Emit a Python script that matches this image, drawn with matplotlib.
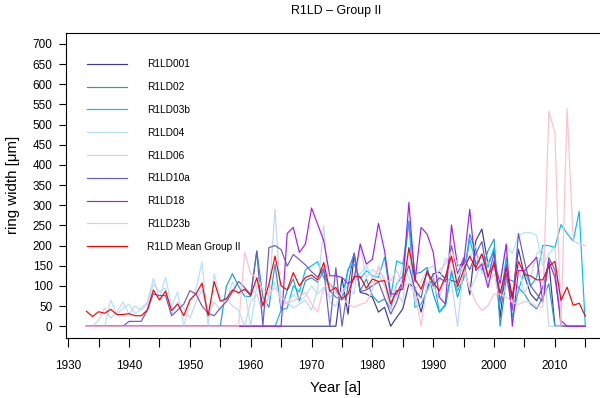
import numpy as np
import matplotlib
matplotlib.use('Agg')
import matplotlib.pyplot as plt

# 全局字体
plt.rcParams['font.family'] = ['Liberation Sans', 'DejaVu Sans']

# 年份 (1933-2015)
years = np.arange(1933, 2016)

# 各样本年轮宽度 (µm), 每行十年
r1ld001 = [0, 0, 0, 0, 0, 0, 0, 0, 0, 0,
           0, 0, 0, 0, 0, 0, 0, 0, 0, 0,
           0, 0, 0, 0, 0, 0, 0, 0, 0, 0,
           0, 0, 0, 0, 0, 0, 0, 0, 0, 0,
           0, 0, 120, 30, 179, 84, 80, 72, 35, 47,
           0, 22, 43, 105, 96, 35, 96, 130, 134, 117,
           113, 109, 162, 78, 212, 241, 154, 187, 22, 154,
           72, 191, 125, 80, 63, 96, 160, 0, 0, 0,
           0, 0, 0]
r1ld02 = [0, 0, 0, 0, 0, 0, 0, 0, 0, 0,
          0, 0, 0, 0, 0, 0, 0, 0, 0, 0,
          0, 0, 0, 99, 130, 99, 74, 74, 187, 72,
          47, 154, 40, 88, 117, 63, 113, 120, 109, 138,
          88, 72, 65, 138, 179, 88, 117, 76, 59, 68,
          43, 105, 125, 261, 130, 134, 146, 80, 35, 51,
          138, 72, 121, 228, 187, 138, 187, 216, 0, 117,
          113, 96, 80, 55, 43, 72, 105, 0, 0, 0,
          0, 0, 0]
r1ld03b = [0, 0, 0, 0, 0, 0, 0, 0, 0, 0,
           0, 0, 0, 0, 0, 0, 0, 0, 0, 0,
           0, 0, 0, 0, 0, 0, 0, 0, 0, 0,
           0, 0, 40, 45, 100, 85, 140, 150, 160, 120,
           105, 88, 68, 142, 154, 117, 138, 125, 121, 171,
           72, 162, 154, 257, 47, 55, 88, 125, 35, 55,
           130, 88, 117, 216, 154, 179, 146, 195, 55, 171,
           22, 88, 138, 100, 121, 200, 200, 195, 252, 230,
           211, 285, 0]
r1ld04 = [0, 0, 0, 0, 65, 30, 45, 55, 30, 45,
          60, 118, 70, 122, 50, 85, 0, 60, 90, 160,
          0, 130, 70, 60, 110, 80, 90, 0, 100, 60,
          70, 110, 60, 55, 80, 60, 75, 100, 80, 95,
          70, 90, 80, 100, 110, 130, 150, 120, 140, 120,
          60, 100, 150, 120, 90, 110, 140, 150, 110, 170,
          140, 120, 150, 170, 200, 130, 160, 140, 120, 200,
          180, 225, 232, 232, 225, 150, 180, 195, 0, 0,
          0, 0, 0]
r1ld06 = [0, 0, 15, 45, 20, 35, 60, 30, 50, 40,
          55, 105, 85, 95, 30, 60, 45, 20, 60, 90,
          25, 60, 40, 70, 50, 40, 0, 60, 80, 30,
          75, 290, 50, 60, 45, 55, 65, 40, 90, 250,
          60, 50, 90, 100, 80, 200, 120, 140, 130, 100,
          40, 80, 60, 190, 60, 90, 110, 100, 70, 120,
          110, 0, 150, 90, 120, 160, 110, 130, 60, 100,
          90, 150, 80, 120, 180, 190, 0, 0, 0, 0,
          0, 0, 0]
r1ld10a = [0, 0, 0, 0, 0, 0, 0, 12, 12, 12,
           40, 80, 76, 76, 26, 40, 55, 88, 80, 50,
           32, 26, 45, 61, 85, 111, 96, 78, 186, 0,
           195, 200, 190, 149, 178, 165, 152, 135, 122, 143,
           0, 145, 0, 100, 182, 86, 90, 100, 110, 70,
           30, 60, 110, 150, 90, 70, 140, 100, 120, 110,
           200, 130, 170, 140, 180, 210, 120, 180, 60, 130,
           40, 230, 160, 100, 80, 60, 170, 140, 0, 0,
           0, 0, 0]
r1ld18 = [0, 0, 0, 0, 0, 0, 0, 0, 0, 0,
          0, 0, 0, 0, 0, 0, 0, 0, 0, 0,
          0, 0, 0, 0, 0, 0, 0, 0, 0, 0,
          0, 0, 0, 230, 245, 183, 204, 293, 253, 212,
          125, 125, 121, 105, 117, 204, 154, 166, 255, 187,
          80, 80, 113, 307, 110, 245, 228, 183, 72, 55,
          251, 150, 154, 290, 138, 154, 96, 162, 105, 204,
          0, 138, 138, 154, 171, 63, 162, 121, 14, 0,
          0, 0, 0]
r1ld23b = [0, 0, 0, 0, 0, 0, 0, 0, 0, 0,
           0, 0, 0, 0, 0, 0, 0, 0, 0, 0,
           0, 0, 0, 0, 0, 0, 183, 130, 120, 90,
           80, 96, 72, 59, 63, 72, 84, 55, 35, 96,
           105, 80, 72, 55, 47, 54, 59, 90, 150, 110,
           113, 138, 100, 105, 80, 0, 105, 121, 138, 154,
           187, 154, 138, 96, 59, 39, 51, 80, 80, 72,
           59, 54, 62, 59, 49, 47, 533, 480, 0, 540,
           212, 204, 200]
mean_group2 = [37, 24, 36, 32, 42, 29, 29, 31, 26, 26,
               40, 90, 65, 87, 39, 55, 26, 65, 80, 107,
               26, 111, 62, 68, 90, 83, 92, 76, 120, 50,
               105, 174, 100, 90, 133, 100, 121, 127, 115, 158,
               87, 96, 68, 80, 124, 123, 94, 117, 111, 113,
               55, 88, 92, 195, 117, 92, 133, 109, 88, 123,
               174, 98, 139, 174, 144, 179, 124, 153, 82, 144,
               68, 161, 128, 125, 115, 115, 148, 161, 64, 97,
               52, 57, 25]

series_names = ['R1LD001', 'R1LD02', 'R1LD03b', 'R1LD04', 'R1LD06',
                'R1LD10a', 'R1LD18', 'R1LD23b', 'R1LD Mean Group II']
series_values = [r1ld001, r1ld02, r1ld03b, r1ld04, r1ld06,
                 r1ld10a, r1ld18, r1ld23b, mean_group2]
series_colors = ['#3a3a9c', '#1c9dd2', '#00bfff', '#b0e2ff', '#c2d6f2',
                 '#6a5acd', '#a020f0', '#ffc0cb', '#ff0000']


def plot_group(ax):
    """绘制所有样本及均值"""
    for name, vals, col in zip(series_names, series_values, series_colors):
        ax.plot(years, vals, color=col, lw=0.85, label=name)

    ax.set_xlim(1929.72, 2018.28)
    ax.set_ylim(-28, 728)

    xt = np.arange(1930, 2016, 5)
    ax.set_xticks(xt)
    ax.set_xticklabels([str(t) if t % 10 == 0 and t < 2015 else '' for t in xt])
    ax.set_yticks(np.arange(0, 701, 50))

    ax.tick_params(axis='x', direction='out', length=6.5, width=0.8,
                   labelsize=8.5, pad=9.5)
    ax.tick_params(axis='y', direction='out', length=5, width=0.8,
                   labelsize=8.5, pad=5)
    for sp in ax.spines.values():
        sp.set_linewidth(0.8)

    ax.set_xlabel('Year [a]', fontsize=10.8)
    ax.xaxis.set_label_coords(0.5, -0.142)
    ax.set_ylabel('ring width [μm]', fontsize=10.8)
    ax.yaxis.set_label_coords(-0.086, 0.5)
    ax.set_title('R1LD – Group II', fontsize=8.9, y=1.035)

    ax.legend(loc='upper left', bbox_to_anchor=(0.039, 0.912), frameon=False,
              fontsize=7.3, handlelength=3.9, handletextpad=1.94,
              labelspacing=1.26, borderpad=0, borderaxespad=0)


def main():
    fig = plt.figure(figsize=(6, 3.98), dpi=100)
    ax = fig.add_axes([0.1108, 0.152, 0.898, 0.766])
    plot_group(ax)
    fig.savefig('out.png', dpi=100)


if __name__ == "__main__":
    main()
